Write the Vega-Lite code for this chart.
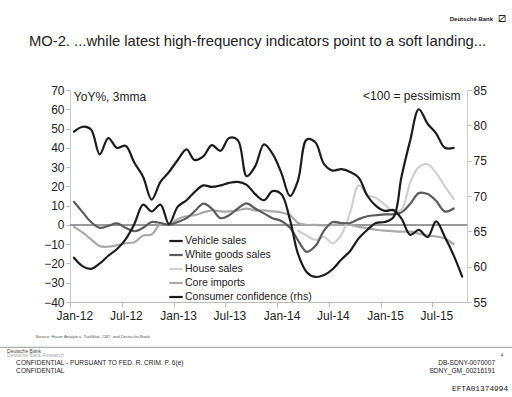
{
  "$schema": "https://vega.github.io/schema/vega-lite/v6.json",
  "width": 397,
  "height": 212,
  "autosize": {"type": "none"},
  "padding": {"left": 70, "top": 90, "right": 45, "bottom": 95},
  "background": "white",
  "config": {"view": {"stroke": null}, "font": "Liberation Sans"},
  "data": {"values": [
    {"d": "2012-01-15", "Vehicle sales": -17, "White goods sales": 12, "House sales": null, "Core imports": -1, "Consumer confidence (rhs)": 79.1},
    {"d": "2012-02-15", "Vehicle sales": -21.5, "White goods sales": 6.5, "House sales": null, "Core imports": -4, "Consumer confidence (rhs)": 79.8},
    {"d": "2012-03-15", "Vehicle sales": -22.8, "White goods sales": 1.5, "House sales": null, "Core imports": -7.5, "Consumer confidence (rhs)": 79.4},
    {"d": "2012-04-15", "Vehicle sales": -20, "White goods sales": -1.5, "House sales": null, "Core imports": -11, "Consumer confidence (rhs)": 75.9},
    {"d": "2012-05-15", "Vehicle sales": -16, "White goods sales": -0.5, "House sales": null, "Core imports": -11.3, "Consumer confidence (rhs)": 78.2},
    {"d": "2012-06-15", "Vehicle sales": -12.5, "White goods sales": 0.8, "House sales": null, "Core imports": -10.5, "Consumer confidence (rhs)": 76.8},
    {"d": "2012-07-15", "Vehicle sales": -7.5, "White goods sales": -1.5, "House sales": null, "Core imports": -9.5, "Consumer confidence (rhs)": 77.1},
    {"d": "2012-08-15", "Vehicle sales": 0.5, "White goods sales": -3.3, "House sales": null, "Core imports": -9, "Consumer confidence (rhs)": 74.7},
    {"d": "2012-09-15", "Vehicle sales": 10.5, "White goods sales": -1.5, "House sales": null, "Core imports": -5.5, "Consumer confidence (rhs)": 72.7},
    {"d": "2012-10-15", "Vehicle sales": 7, "White goods sales": 1.5, "House sales": null, "Core imports": -5, "Consumer confidence (rhs)": 69.5},
    {"d": "2012-11-15", "Vehicle sales": 10.5, "White goods sales": 1, "House sales": null, "Core imports": 0.5, "Consumer confidence (rhs)": 72.0},
    {"d": "2012-12-15", "Vehicle sales": 0.5, "White goods sales": 0, "House sales": null, "Core imports": 0, "Consumer confidence (rhs)": 73.4},
    {"d": "2013-01-15", "Vehicle sales": 9.5, "White goods sales": 1.5, "House sales": null, "Core imports": 3, "Consumer confidence (rhs)": 75.1},
    {"d": "2013-02-15", "Vehicle sales": 12.8, "White goods sales": 3.5, "House sales": null, "Core imports": 4.5, "Consumer confidence (rhs)": 76.6},
    {"d": "2013-03-15", "Vehicle sales": 17, "White goods sales": 7, "House sales": null, "Core imports": 5, "Consumer confidence (rhs)": 75.1},
    {"d": "2013-04-15", "Vehicle sales": 20.5, "White goods sales": 11, "House sales": null, "Core imports": 6.5, "Consumer confidence (rhs)": 75.6},
    {"d": "2013-05-15", "Vehicle sales": 19.7, "White goods sales": 8.5, "House sales": null, "Core imports": 7.5, "Consumer confidence (rhs)": 77.2},
    {"d": "2013-06-15", "Vehicle sales": 20.5, "White goods sales": 3.5, "House sales": null, "Core imports": 7, "Consumer confidence (rhs)": 76.4},
    {"d": "2013-07-15", "Vehicle sales": 21.8, "White goods sales": 5, "House sales": null, "Core imports": 7, "Consumer confidence (rhs)": 78.2},
    {"d": "2013-08-15", "Vehicle sales": 22.3, "White goods sales": 8.5, "House sales": null, "Core imports": 7.5, "Consumer confidence (rhs)": 77.9},
    {"d": "2013-09-15", "Vehicle sales": 20.8, "White goods sales": 11.2, "House sales": null, "Core imports": 8.5, "Consumer confidence (rhs)": 72.8},
    {"d": "2013-10-15", "Vehicle sales": 16, "White goods sales": 8.5, "House sales": null, "Core imports": 7.5, "Consumer confidence (rhs)": 74.2},
    {"d": "2013-11-15", "Vehicle sales": 12.8, "White goods sales": 6, "House sales": null, "Core imports": 7.5, "Consumer confidence (rhs)": 77.3},
    {"d": "2013-12-15", "Vehicle sales": 17.5, "White goods sales": 3.5, "House sales": null, "Core imports": 7, "Consumer confidence (rhs)": 76.0},
    {"d": "2014-01-15", "Vehicle sales": 16, "White goods sales": 2, "House sales": null, "Core imports": 6.5, "Consumer confidence (rhs)": 73.3},
    {"d": "2014-02-15", "Vehicle sales": 2.5, "White goods sales": -1.5, "House sales": null, "Core imports": 5, "Consumer confidence (rhs)": 70.0},
    {"d": "2014-03-15", "Vehicle sales": -15, "White goods sales": -8, "House sales": -3, "Core imports": 1, "Consumer confidence (rhs)": 72.2},
    {"d": "2014-04-15", "Vehicle sales": -24.5, "White goods sales": -14, "House sales": -5.5, "Core imports": 0, "Consumer confidence (rhs)": 78.0},
    {"d": "2014-05-15", "Vehicle sales": -27, "White goods sales": -11, "House sales": -7.8, "Core imports": 0, "Consumer confidence (rhs)": 77.6},
    {"d": "2014-06-15", "Vehicle sales": -26, "White goods sales": -3, "House sales": -6.2, "Core imports": -0.3, "Consumer confidence (rhs)": 74.5},
    {"d": "2014-07-15", "Vehicle sales": -23, "White goods sales": 1.5, "House sales": -9.5, "Core imports": 0, "Consumer confidence (rhs)": 73.6},
    {"d": "2014-08-15", "Vehicle sales": -18, "White goods sales": 1, "House sales": -5, "Core imports": 0.3, "Consumer confidence (rhs)": 73.8},
    {"d": "2014-09-15", "Vehicle sales": -13.5, "White goods sales": 1, "House sales": 6.5, "Core imports": 0, "Consumer confidence (rhs)": 73.4},
    {"d": "2014-10-15", "Vehicle sales": -7, "White goods sales": 3, "House sales": 20.5, "Core imports": -1, "Consumer confidence (rhs)": 72.6},
    {"d": "2014-11-15", "Vehicle sales": -2.5, "White goods sales": 4.5, "House sales": 15.5, "Core imports": -1.7, "Consumer confidence (rhs)": 70.0},
    {"d": "2014-12-15", "Vehicle sales": 1, "White goods sales": 5, "House sales": 14, "Core imports": -2.5, "Consumer confidence (rhs)": 68.6},
    {"d": "2015-01-15", "Vehicle sales": 1.5, "White goods sales": 5.5, "House sales": 10.5, "Core imports": -3, "Consumer confidence (rhs)": 67.9},
    {"d": "2015-02-15", "Vehicle sales": 4, "White goods sales": 5.5, "House sales": 7, "Core imports": -3.3, "Consumer confidence (rhs)": 68.0},
    {"d": "2015-03-15", "Vehicle sales": 25, "White goods sales": 6.5, "House sales": 8, "Core imports": -3.5, "Consumer confidence (rhs)": 66.8},
    {"d": "2015-04-15", "Vehicle sales": 44, "White goods sales": 11, "House sales": 22, "Core imports": -3.5, "Consumer confidence (rhs)": 64.5},
    {"d": "2015-05-15", "Vehicle sales": 60, "White goods sales": 16.5, "House sales": 30, "Core imports": -4.5, "Consumer confidence (rhs)": 65.2},
    {"d": "2015-06-15", "Vehicle sales": 52.5, "White goods sales": 16, "House sales": 31.5, "Core imports": -5.5, "Consumer confidence (rhs)": 64.2},
    {"d": "2015-07-15", "Vehicle sales": 47.5, "White goods sales": 12.5, "House sales": 27, "Core imports": -6, "Consumer confidence (rhs)": 66.4},
    {"d": "2015-08-15", "Vehicle sales": 40, "White goods sales": 7, "House sales": 20, "Core imports": -7, "Consumer confidence (rhs)": 64.2},
    {"d": "2015-09-15", "Vehicle sales": 40, "White goods sales": 8.5, "House sales": 13.5, "Core imports": -10, "Consumer confidence (rhs)": 61.6},
    {"d": "2015-10-15", "Vehicle sales": null, "White goods sales": null, "House sales": null, "Core imports": null, "Consumer confidence (rhs)": 58.6}
  ]},
  "layer": [
    {
      "layer": [
        {
          "mark": {"type": "rule", "color": "#9a9a9a", "strokeWidth": 1.3},
          "encoding": {
            "x": {"datum": {"year": 2012, "month": 1, "date": 1, "utc": true}, "type": "temporal", "axis": null,
              "scale": {"type": "utc", "domain": [{"year": 2012, "month": 1, "date": 1, "utc": true}, {"year": 2015, "month": 11, "date": 1, "utc": true}]}},
            "x2": {"datum": {"year": 2015, "month": 11, "date": 1, "utc": true}},
            "y": {"datum": 0, "type": "quantitative", "axis": null, "scale": {"domain": [-40, 70], "nice": false, "zero": false}}
          }
        },
        {
          "data": {"values": [{"t": "MO-2. ...while latest high-frequency indicators point to a soft landing..."}]},
          "mark": {"type": "text", "align": "left", "baseline": "middle", "fontSize": 14.8, "color": "#222"},
          "encoding": {"x": {"datum": {"year": 2011, "month": 8, "date": 9, "utc": true}, "type": "temporal", "axis": null}, "y": {"datum": 94.9, "type": "quantitative", "axis": null}, "text": {"field": "t"}}
        },
        {
          "data": {"values": [{"t": "Deutsche Bank"}]},
          "mark": {"type": "text", "align": "right", "baseline": "middle", "fontSize": 6, "fontWeight": "bold", "color": "#222"},
          "encoding": {"x": {"datum": {"year": 2016, "month": 2, "date": 1, "utc": true}, "type": "temporal", "axis": null}, "y": {"datum": 106.8, "type": "quantitative", "axis": null}, "text": {"field": "t"}}
        },
        {
          "data": {"values": [{"t": "⧄"}]},
          "mark": {"type": "text", "align": "center", "baseline": "middle", "fontSize": 13, "font": "DejaVu Sans", "color": "#222"},
          "encoding": {"x": {"datum": {"year": 2016, "month": 3, "date": 3, "utc": true}, "type": "temporal", "axis": null}, "y": {"datum": 107.6, "type": "quantitative", "axis": null}, "text": {"field": "t"}}
        },
        {
          "data": {"values": [{}]},
          "mark": {"type": "rule", "color": "#999", "strokeWidth": 1},
          "encoding": {"x": {"datum": {"year": 2011, "month": 4, "date": 29, "utc": true}, "type": "temporal", "axis": null}, "x2": {"datum": {"year": 2016, "month": 4, "date": 8, "utc": true}}, "y": {"datum": -63.5, "type": "quantitative", "axis": null}}
        },
        {
          "data": {"values": [{"t": "Deutsche Bank"}]},
          "mark": {"type": "text", "align": "left", "baseline": "middle", "fontSize": 5, "color": "#444"},
          "encoding": {"x": {"datum": {"year": 2011, "month": 5, "date": 24, "utc": true}, "type": "temporal", "axis": null}, "y": {"datum": -65.3, "type": "quantitative", "axis": null}, "text": {"field": "t"}}
        },
        {
          "data": {"values": [{"t": "Deutsche Bank Research"}]},
          "mark": {"type": "text", "align": "left", "baseline": "middle", "fontSize": 5, "color": "#aaa"},
          "encoding": {"x": {"datum": {"year": 2011, "month": 5, "date": 24, "utc": true}, "type": "temporal", "axis": null}, "y": {"datum": -67.7, "type": "quantitative", "axis": null}, "text": {"field": "t"}}
        },
        {
          "data": {"values": [{"t": "CONFIDENTIAL - PURSUANT TO FED. R. CRIM. P. 6(e)"}]},
          "mark": {"type": "text", "align": "left", "baseline": "middle", "fontSize": 6.6, "color": "#222"},
          "encoding": {"x": {"datum": {"year": 2011, "month": 6, "date": 25, "utc": true}, "type": "temporal", "axis": null}, "y": {"datum": -71.5, "type": "quantitative", "axis": null}, "text": {"field": "t"}}
        },
        {
          "data": {"values": [{"t": "CONFIDENTIAL"}]},
          "mark": {"type": "text", "align": "left", "baseline": "middle", "fontSize": 6.6, "color": "#222"},
          "encoding": {"x": {"datum": {"year": 2011, "month": 6, "date": 25, "utc": true}, "type": "temporal", "axis": null}, "y": {"datum": -75.9, "type": "quantitative", "axis": null}, "text": {"field": "t"}}
        },
        {
          "data": {"values": [{"t": "4"}]},
          "mark": {"type": "text", "align": "center", "baseline": "middle", "fontSize": 4.5, "color": "#444"},
          "encoding": {"x": {"datum": {"year": 2016, "month": 3, "date": 3, "utc": true}, "type": "temporal", "axis": null}, "y": {"datum": -68.0, "type": "quantitative", "axis": null}, "text": {"field": "t"}}
        },
        {
          "data": {"values": [{"t": "DB-SDNY-0070007"}]},
          "mark": {"type": "text", "align": "right", "baseline": "middle", "fontSize": 6.6, "color": "#222"},
          "encoding": {"x": {"datum": {"year": 2016, "month": 2, "date": 8, "utc": true}, "type": "temporal", "axis": null}, "y": {"datum": -71.5, "type": "quantitative", "axis": null}, "text": {"field": "t"}}
        },
        {
          "data": {"values": [{"t": "SDNY_GM_00216191"}]},
          "mark": {"type": "text", "align": "right", "baseline": "middle", "fontSize": 6.6, "color": "#222"},
          "encoding": {"x": {"datum": {"year": 2016, "month": 2, "date": 8, "utc": true}, "type": "temporal", "axis": null}, "y": {"datum": -75.9, "type": "quantitative", "axis": null}, "text": {"field": "t"}}
        },
        {
          "data": {"values": [{"t": "EFTA01374994"}]},
          "mark": {"type": "text", "align": "right", "baseline": "middle", "fontSize": 7.8, "font": "Liberation Mono", "color": "#222"},
          "encoding": {"x": {"datum": {"year": 2016, "month": 3, "date": 25, "utc": true}, "type": "temporal", "axis": null}, "y": {"datum": -85.4, "type": "quantitative", "axis": null}, "text": {"field": "t"}}
        }
      ]
    },
    {
      "layer": [
        {
          "transform": [{"fold": ["Core imports", "House sales", "White goods sales", "Vehicle sales"], "as": ["s", "v"]}],
          "mark": {"type": "line", "interpolate": "catmull-rom", "strokeWidth": 2.2, "strokeCap": "round", "strokeJoin": "round"},
          "encoding": {
            "x": {"field": "d", "type": "temporal",
              "scale": {"type": "utc", "domain": [{"year": 2012, "month": 1, "date": 1, "utc": true}, {"year": 2015, "month": 11, "date": 1, "utc": true}]},
              "axis": {
                "values": [
                  {"year": 2012, "month": 1, "date": 1, "utc": true}, {"year": 2012, "month": 7, "date": 1, "utc": true},
                  {"year": 2013, "month": 1, "date": 1, "utc": true}, {"year": 2013, "month": 7, "date": 1, "utc": true},
                  {"year": 2014, "month": 1, "date": 1, "utc": true}, {"year": 2014, "month": 7, "date": 1, "utc": true},
                  {"year": 2015, "month": 1, "date": 1, "utc": true}, {"year": 2015, "month": 7, "date": 1, "utc": true}
                ],
                "labelExpr": "utcFormat(datum.value, '%b-%y')", "labelFlush": false,
                "labelFontSize": 12, "labelColor": "#222", "labelOffset": 4.3, "labelPadding": 3,
                "tickSize": 5, "tickColor": "#bbb", "domainColor": "#bbb", "grid": false,
                "title": "Source: Haver Analytics, TurkStat, CBT, and Deutsche Bank",
                "titleX": -35, "titleY": 34, "titleAlign": "left", "titleAnchor": "start", "titleBaseline": "middle",
                "titleFontSize": 4.3, "titleFontWeight": "normal", "titleColor": "#555"
              }
            },
            "y": {"field": "v", "type": "quantitative",
              "scale": {"domain": [-40, 70], "nice": false, "zero": false},
              "axis": {
                "values": [-40, -30, -20, -10, 0, 10, 20, 30, 40, 50, 60, 70],
                "labelFontSize": 12, "labelColor": "#222", "labelPadding": 2,
                "tickSize": 4, "tickColor": "#bbb", "domainColor": "#ccc", "grid": false,
                "title": "YoY%, 3mma", "titleAngle": 0, "titleX": 3.3, "titleY": 6, "titleAlign": "left", "titleBaseline": "middle",
                "titleFontSize": 12, "titleFontWeight": "normal", "titleColor": "#222"
              }
            },
            "color": {"field": "s", "type": "nominal",
              "scale": {"domain": ["Vehicle sales", "White goods sales", "House sales", "Core imports", "Consumer confidence (rhs)"], "range": ["#1c1c1c", "#5c5c5c", "#cfcfcf", "#a9a9a9", "#1c1c1c"]},
              "legend": {"orient": "none", "legendX": 98, "legendY": 143, "title": null, "symbolType": "stroke", "symbolSize": 180, "symbolStrokeWidth": 2.2, "labelFontSize": 10.5, "labelFont": "Liberation Sans", "labelColor": "#222", "labelOffset": 1, "rowPadding": 0, "padding": 0, "labelLimit": 300}
            }
          }
        },
        {
          "transform": [{"fold": ["Consumer confidence (rhs)"], "as": ["s", "v"]}],
          "mark": {"type": "line", "interpolate": "catmull-rom", "strokeWidth": 2.2, "strokeCap": "round", "strokeJoin": "round"},
          "encoding": {
            "x": {"field": "d", "type": "temporal",
              "axis": {
                "values": [
                  {"year": 2012, "month": 1, "date": 1, "utc": true}, {"year": 2012, "month": 7, "date": 1, "utc": true},
                  {"year": 2013, "month": 1, "date": 1, "utc": true}, {"year": 2013, "month": 7, "date": 1, "utc": true},
                  {"year": 2014, "month": 1, "date": 1, "utc": true}, {"year": 2014, "month": 7, "date": 1, "utc": true},
                  {"year": 2015, "month": 1, "date": 1, "utc": true}, {"year": 2015, "month": 7, "date": 1, "utc": true}
                ],
                "labelExpr": "utcFormat(datum.value, '%b-%y')", "labelFlush": false,
                "labelFontSize": 12, "labelColor": "#222", "labelOffset": 4.3, "labelPadding": 3,
                "tickSize": 5, "tickColor": "#bbb", "domainColor": "#bbb", "grid": false,
                "title": "Source: Haver Analytics, TurkStat, CBT, and Deutsche Bank",
                "titleX": -35, "titleY": 34, "titleAlign": "left", "titleAnchor": "start", "titleBaseline": "middle",
                "titleFontSize": 4.3, "titleFontWeight": "normal", "titleColor": "#555"
              }
            },
            "y": {"field": "v", "type": "quantitative",
              "scale": {"domain": [55, 85], "nice": false, "zero": false},
              "axis": {
                "orient": "right", "values": [55, 60, 65, 70, 75, 80, 85],
                "labelFontSize": 12, "labelColor": "#222", "labelPadding": 2,
                "tickSize": 4, "tickColor": "#bbb", "domainColor": "#ccc", "grid": false,
                "title": "<100 = pessimism", "titleAngle": 0, "titleX": -7, "titleY": 5, "titleAlign": "right", "titleBaseline": "middle",
                "titleFontSize": 12, "titleFontWeight": "normal", "titleColor": "#222"
              }
            },
            "color": {"field": "s", "type": "nominal"}
          }
        }
      ],
      "resolve": {"scale": {"y": "independent"}}
    }
  ],
  "resolve": {"scale": {"x": "independent", "y": "independent"}}
}
